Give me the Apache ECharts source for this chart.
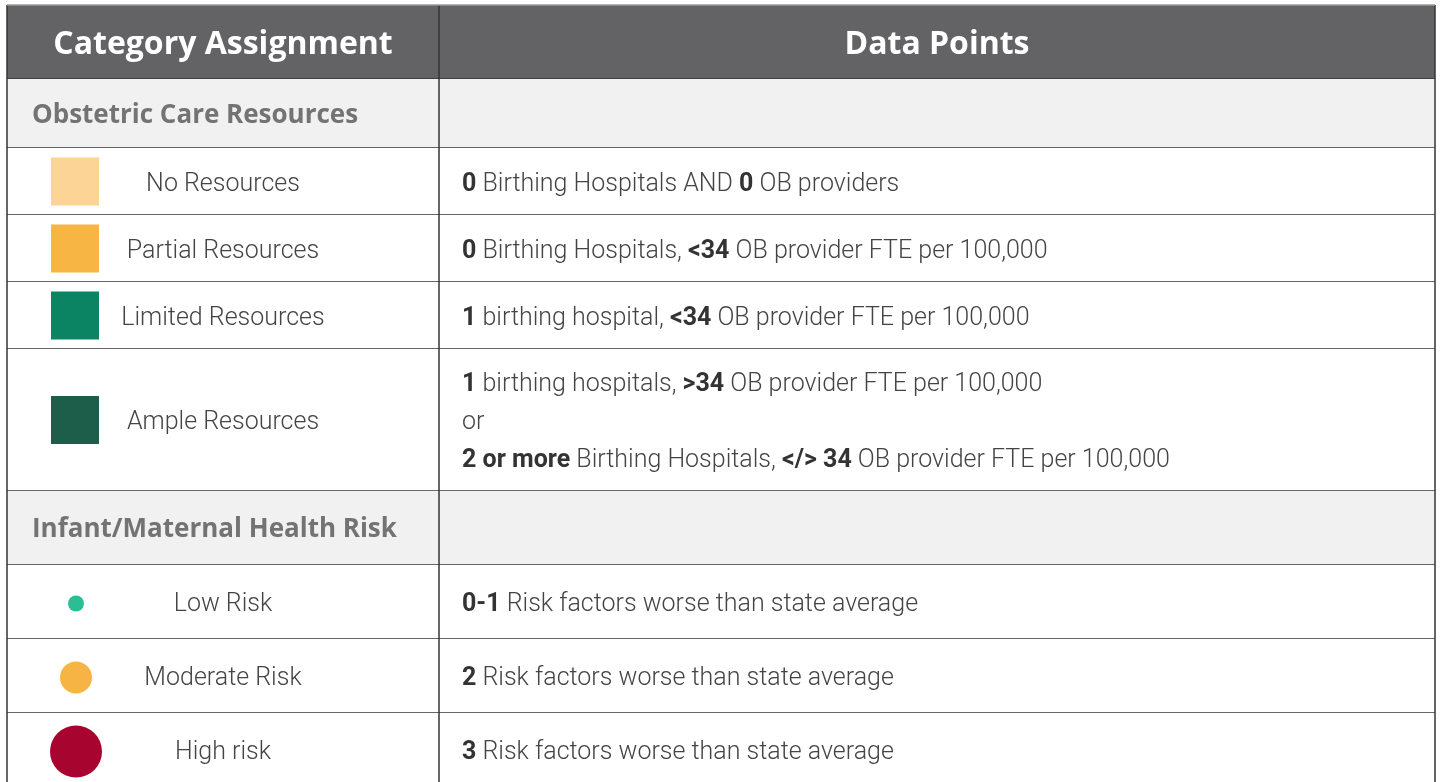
<!DOCTYPE html>
<html>
<head>
<meta charset="utf-8">
<script src="https://cdn.jsdelivr.net/npm/echarts@6/dist/echarts.min.js"></script>
<style>
  html, body { margin: 0; padding: 0; background: #fff; }
  #chart { width: 1440px; height: 782px; }
</style>
</head>
<body>
<div id="chart"></div>
<script>
// table content
const headers = ['Category Assignment', 'Data Points'];
const resourceSection = 'Obstetric Care Resources';
const resourceLabels = ['No Resources', 'Partial Resources', 'Limited Resources', 'Ample Resources'];
const resourceRules = [
  '{b|0} Birthing Hospitals AND {b|0} OB providers',
  '{b|0} Birthing Hospitals, {b|<34} OB provider FTE per 100,000',
  '{b|1} birthing hospital, {b|<34} OB provider FTE per 100,000',
  '{b|1} birthing hospitals, {b|>34} OB provider FTE per 100,000\nor\n{b|2 or more} Birthing Hospitals, {b|</> 34} OB provider FTE per 100,000'
];
const riskSection = 'Infant/Maternal Health Risk';
const riskLabels = ['Low Risk', 'Moderate Risk', 'High risk'];
const riskRules = [
  '{b|0-1} Risk factors worse than state average',
  '{b|2} Risk factors worse than state average',
  '{b|3} Risk factors worse than state average'
];

// styling
const resourceColors = ['#fcd496', '#f7b543', '#0a8462', '#1d5e4b'];
const riskColors = ['#2bbd94', '#f6b444', '#a7052f'];
const riskRadius = [8, 16, 26];
const rowHeights = { header: 74, section: 69, item: 67, tall: 142, risk: 74 };
const colSplit = 432;
const tableWidth = 1428;

// build row list
const rows = [];
rows.push({ kind: 'header', h: rowHeights.header });
rows.push({ kind: 'section', text: resourceSection, h: rowHeights.section });
resourceLabels.forEach((l, i) => rows.push({
  kind: 'square', label: l, rule: resourceRules[i], color: resourceColors[i],
  h: i === 3 ? rowHeights.tall : rowHeights.item
}));
rows.push({ kind: 'section', text: riskSection, h: rowHeights.risk });
riskLabels.forEach((l, i) => rows.push({
  kind: 'circle', label: l, rule: riskRules[i], color: riskColors[i], r: riskRadius[i], h: rowHeights.risk
}));
let acc = 0;
rows.forEach(r => { r.top = acc; acc += r.h; r.bottom = acc; });
const tableHeight = acc;

const lineColor = '#333';
const bodyFont = '300 25px Roboto';
const richBold = { fontFamily: 'Roboto', fontWeight: 'bold', fontSize: 25, fill: '#333' };

function renderItem(params, api) {
  const r = rows[api.value(0)];
  const p0 = api.coord([0, r.top]);
  const p1 = api.coord([tableWidth, r.bottom]);
  const ps = api.coord([colSplit, r.top]);
  const x0 = p0[0], y0 = p0[1], x1 = p1[0], y1 = p1[1], xs = ps[0];
  const cy = (y0 + y1) / 2;
  const children = [];
  let bg = '#fff';
  if (r.kind === 'header') bg = '#636365';
  if (r.kind === 'section') bg = '#f1f1f1';
  children.push({ type: 'rect', shape: { x: x0, y: y0, width: x1 - x0, height: y1 - y0 }, style: { fill: bg } });

  if (r.kind === 'header') {
    children.push({ type: 'text', style: { text: headers[0], x: (x0 + xs) / 2, y: cy + 3, align: 'center', verticalAlign: 'middle',
      font: 'bold 32px "Open Sans"', fill: '#fff' } });
    children.push({ type: 'text', style: { text: headers[1], x: (xs + x1) / 2, y: cy + 3, align: 'center', verticalAlign: 'middle',
      font: 'bold 32px "Open Sans"', fill: '#fff' } });
  } else if (r.kind === 'section') {
    children.push({ type: 'text', style: { text: r.text, x: x0 + 25, y: cy + 2, align: 'left', verticalAlign: 'middle',
      font: 'bold 26px "Open Sans"', fill: '#737373' } });
  } else {
    const mx = x0 + 68;
    if (r.kind === 'square') {
      children.push({ type: 'rect', shape: { x: mx - 24, y: cy - 24, width: 48, height: 48 }, style: { fill: r.color } });
    } else {
      children.push({ type: 'circle', shape: { cx: mx + 1, cy: cy + 1.5, r: r.r }, style: { fill: r.color } });
    }
    children.push({ type: 'text', style: { text: r.label, x: (x0 + xs) / 2, y: cy + 3, align: 'center', verticalAlign: 'middle',
      font: bodyFont, fill: '#444' } });
    children.push({ type: 'text', style: { text: r.rule, x: xs + 23, y: cy + 3, align: 'left', verticalAlign: 'middle',
      font: bodyFont, fill: '#444', lineHeight: 38, rich: { b: richBold } } });
  }

  // borders
  const ls = { stroke: lineColor, lineWidth: 1.5 };
  children.push({ type: 'line', shape: { x1: x0, y1: y1, x2: x1, y2: y1 }, style: ls });
  children.push({ type: 'line', shape: { x1: xs, y1: y0, x2: xs, y2: y1 }, style: ls });
  children.push({ type: 'line', shape: { x1: x0, y1: y0, x2: x0, y2: y1 }, style: ls });
  children.push({ type: 'line', shape: { x1: x1, y1: y0, x2: x1, y2: y1 }, style: ls });
  if (r.top === 0) children.push({ type: 'line', shape: { x1: x0, y1: y0, x2: x1, y2: y0 }, style: { stroke: '#999', lineWidth: 1.5 } });
  return { type: 'group', children: children };
}

const chart = echarts.init(document.getElementById('chart'));
chart.setOption({
  animation: false,
  grid: { left: 7, top: 5, width: tableWidth, height: tableHeight, outerBoundsMode: 'none', containLabel: false },
  xAxis: { type: 'value', min: 0, max: tableWidth, show: false },
  yAxis: { type: 'value', min: 0, max: tableHeight, inverse: true, show: false },
  series: [{
    type: 'custom',
    renderItem: renderItem,
    clip: false,
    data: rows.map((r, i) => [i]),
    encode: { x: -1, y: -1 }
  }]
});
</script>
</body>
</html>
